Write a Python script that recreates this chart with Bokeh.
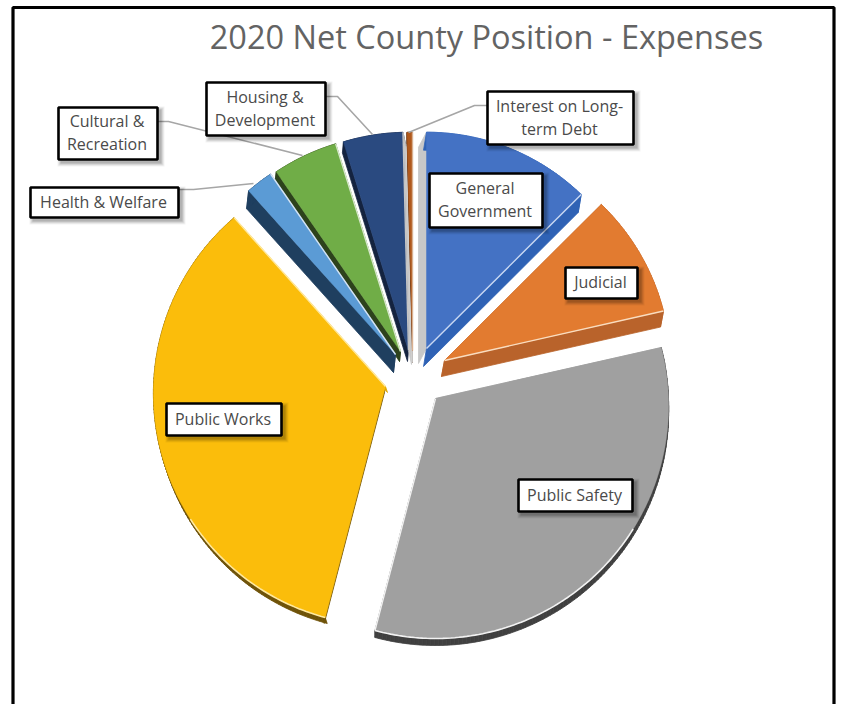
import math
from bokeh.plotting import figure
from bokeh.core.properties import value
from bokeh.embed import file_html
from bokeh.resources import INLINE

# --- data (share of net expenses, clockwise from 12 o'clock)
categories = ["General\nGovernment", "Judicial", "Public Safety", "Public Works",
              "Health & Welfare", "Cultural &\nRecreation", "Housing &\nDevelopment",
              "Interest on Long-\nterm Debt"]
shares = [12.5, 8.9, 32.5, 34.2, 2.0, 4.8, 4.4, 0.4]
title_text = "2020 Net County Position - Expenses"

# --- style / layout
top_colors = ["#4472C4", "#E27B30", "#A0A0A0", "#FBBD0B", "#5B9BD5", "#70AD47", "#2A4A80", "#B0591C"]
arc_sides = ["#2F62B5", "#B9632B", "#404040", "#6E5208", "#1F3F5F", "#2D421C", "#14233F", "#5A2C0E"]
start_sides = ["#C8C8C8", "#B9632B", "#A0A0A0", "#6E5208", "#1F3F5F", "#2D421C", "#14233F", "#5A2C0E"]
end_sides = ["#2F62B5", "#B9632B", "#404040", "#DDA500", "#1F3F5F", "#2D421C", "#C8C8C8", "#C8C8C8"]
bevels = ["#C9D8F2", "#F9DDC0", "#F2F2F2", "#FFE9A0", "#D5E4F4", "#D8E8CC", "#C4C4C4", "#D8B090"]
apex_x = [426, 444, 435, 385, 395, 400, 408, 412]
apex_y = [348, 360, 398, 386, 354, 351, 350, 350]
radii = [223, 226, 233, 232, 225, 224, 225, 225]
start_dx = [-8, -3, 0, -1, -2, -1, -1, 0]
start_dy = [15, 16, 7, 6, 18, 10, 11, 12]
end_dx = [-3, -3, 0, 2, -2, -1, 3, 0]
end_dy = [18, 16, 7, 6, 18, 10, 14, 12]
draw_order = [7, 6, 5, 4, 0, 3, 2, 1]

box_l = [429, 565, 518, 166, 30, 58, 206, 487]
box_r = [542, 637, 632, 281, 178, 157, 325, 633]
box_t = [173, 267, 479, 403, 187, 107, 82, 91]
box_b = [227, 298, 511, 435, 217, 159, 135, 144]

leader_x = [[178, 193, 253], [157, 168, 302], [325, 337, 372], [487, 474, 408]]
leader_y = [[189, 189, 183], [121, 121, 155], [96, 96, 134], [105, 105, 132]]

W, H = 841, 704
p = figure(width=W, height=H, x_range=(0, W), y_range=(H, 0),
           output_backend="svg", toolbar_location=None, min_border=0,
           x_axis_type=None, y_axis_type=None, background_fill_color="white",
           border_fill_color="white")
p.grid.visible = False
p.outline_line_color = None

# frame (open at the bottom)
p.line([12.5, 12.5, 833.5, 833.5], [H, 7, 7, H], line_color="black", line_width=3.2)

# slices
total = sum(shares)
edges = [0.0]
for s in shares:
    edges.append(edges[-1] + s / total * 2 * math.pi)

def rim(i, t):
    r = radii[i] * (1 - 0.03 * math.cos(t))
    return apex_x[i] + r * math.sin(t), apex_y[i] - r * math.cos(t)

for i in draw_order:
    steps = max(3, int((edges[i + 1] - edges[i]) * 60))
    ts = [edges[i] + (edges[i + 1] - edges[i]) * k / steps for k in range(steps + 1)]
    pts = [rim(i, t) for t in ts]
    ax, ay = apex_x[i], apex_y[i]
    sdx, sdy, edx, edy = start_dx[i], start_dy[i], end_dx[i], end_dy[i]

    # extruded sides
    qx = [[ax, pts[0][0], pts[0][0] + sdx, ax + sdx]]
    qy = [[ay, pts[0][1], pts[0][1] + sdy, ay + sdy]]
    qc = [start_sides[i]]
    for a, b in zip(pts[:-1], pts[1:]):
        qx.append([a[0], b[0], b[0] + edx, a[0] + edx])
        qy.append([a[1], b[1], b[1] + edy, a[1] + edy])
        qc.append(arc_sides[i])
    qx.append([ax, pts[-1][0], pts[-1][0] + edx, ax + edx])
    qy.append([ay, pts[-1][1], pts[-1][1] + edy, ay + edy])
    qc.append(end_sides[i])
    p.patches(qx, qy, fill_color=qc, line_color=qc, line_width=0.8)

    # top face
    p.patch([ax] + [q[0] for q in pts], [ay] + [q[1] for q in pts],
            fill_color=top_colors[i], line_color=top_colors[i], line_width=0.5)

    # light bevel: lower part of the rim and the straight edges
    low = [q for q, t in zip(pts, ts) if math.cos(t) < -0.55]
    p.line([pts[-1][0], ax], [pts[-1][1], ay], line_color=bevels[i], line_width=1.4)
    if low:
        p.line([q[0] for q in low], [q[1] for q in low], line_color=bevels[i], line_width=1.6)

# leader lines
p.multi_line(leader_x, leader_y, line_color="#A6A6A6", line_width=1.6)

# label boxes with a soft shadow
for grow, alpha in [(4, 0.05), (3, 0.07), (2, 0.09), (1, 0.12)]:
    p.quad(left=[v + 3 - grow for v in box_l], right=[v + 3 + grow for v in box_r],
           top=[v + 3 - grow for v in box_t], bottom=[v + 3 + grow for v in box_b],
           fill_color="#000000", fill_alpha=alpha, line_color=None)
p.quad(left=box_l, right=box_r, top=box_t, bottom=box_b,
       fill_color="white", line_color="black", line_width=2.6)

# label texts
tx, ty, tt = [], [], []
for c, l, r, t, b in zip(categories, box_l, box_r, box_t, box_b):
    lines = c.split("\n")
    for k, s in enumerate(lines):
        tx.append((l + r) / 2 - 1)
        ty.append((t + b) / 2 + (k - (len(lines) - 1) / 2) * 23 - 1)
        tt.append(s)
p.text(tx, ty, text=tt, text_font=value("Open Sans"), text_font_size="16px",
       text_color="#4A4A4A", text_align="center", text_baseline="middle")

# title
p.text([486], [36], text=[title_text], text_font=value("Open Sans"), text_font_size="32.5px",
       text_color="#636363", text_align="center", text_baseline="middle")

open("out.html", "w").write(file_html(p, INLINE))
